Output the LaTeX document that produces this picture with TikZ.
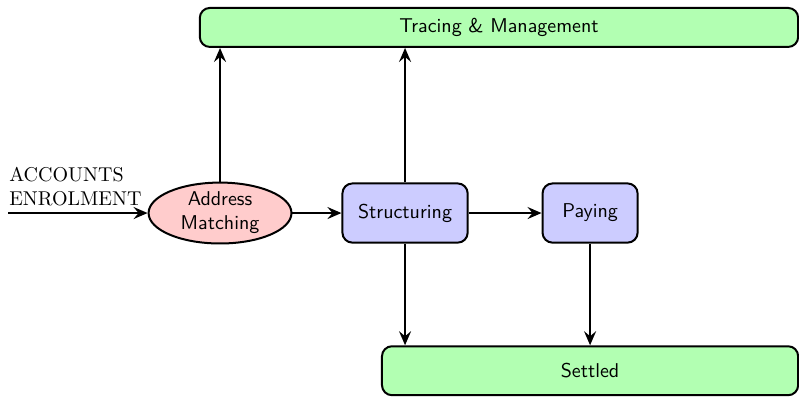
\documentclass[tikz,border=0pt]{standalone}
\usepackage{amsmath,amssymb,tikz}
\usetikzlibrary{arrows.meta,shapes.geometric}

\tikzset{
  proc/.style={draw, rounded corners=5pt, fill=blue!20, font=\sffamily,
    minimum height=1.04cm, inner sep=0pt},
  sink/.style={draw, rounded corners=5pt, fill=green!30, font=\sffamily,
    inner sep=0pt},
  match/.style={draw, ellipse, fill=red!20, font=\sffamily, align=center,
    minimum width=2.51cm, minimum height=1.07cm, inner sep=0pt}
}

\begin{document}
\begin{tikzpicture}[>={Stealth[length=7pt,width=6pt,inset=2.5pt]}, line width=1pt]
\useasboundingbox (-3.865,3.742) rectangle (10.17,-3.215);

\node[match] (1) at (0,0) {Address\\Matching};
\node[proc, minimum width=2.2cm] (2) at (3.25,0) {Structuring};
\node[proc, minimum width=1.67cm] (3) at (6.5,0) {Paying};
\node[sink, minimum width=10.51cm, minimum height=0.685cm] (4) at (4.9,3.26) {Tracing \& Management};
\node[sink, minimum width=7.31cm, minimum height=0.86cm] (5) at (6.5,-2.77) {Settled};

\coordinate (0) at (-3.72,0);
\node[align=left, anchor=south west, inner sep=0pt, yshift=3pt] (l) at (0) {ACCOUNTS\\ENROLMENT};

\draw[->] (0) to (1);
\draw[->] (1) to (2);
\draw[->] (2) to (3);
\draw[->] (1.north) to (1.north |- 4.south);
\draw[->] (2.north) to (2.north |- 4.south);
\draw[->] (2.south) to (2.south |- 5.north);
\draw[->] (3.south) to (3.south |- 5.north);

\end{tikzpicture}
\end{document}
